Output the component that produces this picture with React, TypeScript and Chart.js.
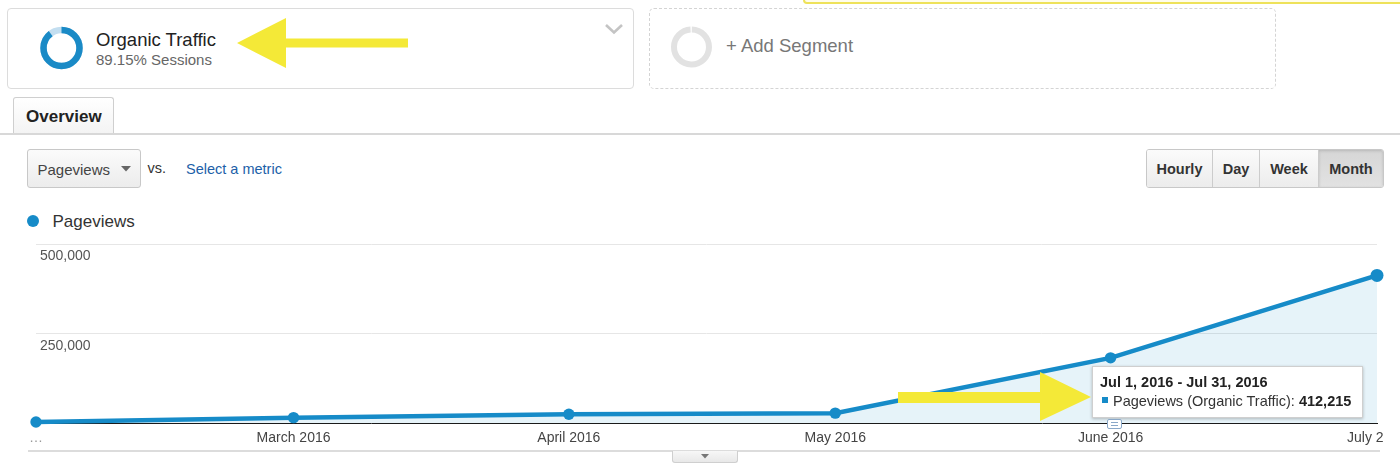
import React, { useEffect, useRef } from "react";
import { Chart, registerables } from "chart.js";

Chart.register(...registerables);

// ---- data ----
const monthLabels = ["…", "March 2016", "April 2016", "May 2016", "June 2016", "July 2016"];
const dayOffsets = [0, 29, 60, 90, 121, 151]; // days since Feb 1, 2016
const pageviews = [3000, 15000, 24500, 27500, 182000, 412215];
const yTickValues = [250000, 500000];
const tooltipRange = "Jul 1, 2016 - Jul 31, 2016";
const segmentName = "Organic Traffic";
const segmentShare = "89.15% Sessions";
const segmentPercent = 89.15;
const metricName = "Pageviews";
const periodButtons = ["Hourly", "Day", "Week", "Month"];

const FONT = "'Liberation Sans', Arial, Helvetica, sans-serif";
const BLUE = "#168bc8";

function abs(left: number, top: number, extra: React.CSSProperties = {}): React.CSSProperties {
  return { position: "absolute", left, top, ...extra };
}

export default function App() {
  const canvasRef = useRef<HTMLCanvasElement | null>(null);

  useEffect(() => {
    const canvas = canvasRef.current;
    if (!canvas) return;
    const last = pageviews.length - 1;
    const chart = new Chart(canvas, {
      type: "line",
      data: {
        datasets: [
          {
            label: metricName,
            data: dayOffsets.map((x, i) => ({ x, y: pageviews[i] })),
            borderColor: BLUE,
            backgroundColor: "rgba(5,141,199,0.1)",
            fill: "origin",
            borderWidth: 4.5,
            tension: 0,
            pointRadius: (ctx: any) => (ctx.dataIndex === last ? 6.5 : 5.7),
            pointBackgroundColor: BLUE,
            pointBorderWidth: 0,
            clip: false as any,
          },
        ],
      },
      options: {
        animation: false,
        responsive: false,
        maintainAspectRatio: false,
        events: [],
        layout: { padding: { left: 36, right: 7, top: 8, bottom: 0 } },
        plugins: {
          legend: { display: false },
          tooltip: { enabled: false },
        },
        scales: {
          x: {
            type: "linear",
            min: dayOffsets[0],
            max: dayOffsets[dayOffsets.length - 1],
            afterBuildTicks: (s: any) => {
              s.ticks = dayOffsets.map((v) => ({ value: v }));
            },
            afterFit: (s: any) => {
              s.height = 28;
              s.paddingLeft = 0;
              s.paddingRight = 0;
            },
            grid: { display: true, color: "rgba(0,0,0,0)", drawTicks: false },
            border: { display: true, color: "#1a1a1a", width: 1 },
            ticks: {
              autoSkip: false,
              maxRotation: 0,
              padding: 7,
              font: { family: FONT, size: 14 },
              color: (ctx: any) => (ctx.index === 0 ? "#999" : "#444"),
              callback: (v: any) => {
                const i = dayOffsets.indexOf(Number(v));
                return i >= 0 ? monthLabels[i] : "";
              },
            },
          },
          y: {
            min: 0,
            max: 500000,
            afterBuildTicks: (s: any) => {
              s.ticks = yTickValues.map((v) => ({ value: v }));
            },
            afterFit: (s: any) => {
              s.width = 0;
              s.paddingTop = 0;
              s.paddingBottom = 0;
            },
            grid: { color: "#e6e6e6", lineWidth: 1, drawTicks: false },
            border: { display: false },
            ticks: {
              mirror: true,
              padding: 4,
              labelOffset: 12.5,
              font: { family: FONT, size: 14 },
              color: "#555",
              callback: (v: any) => Number(v).toLocaleString("en-US"),
            },
          },
        },
      } as any,
    });
    return () => chart.destroy();
  }, []);

  const circ1 = 2 * Math.PI * 18;
  const circ2 = 2 * Math.PI * 17.5;
  const lastValue = pageviews[pageviews.length - 1].toLocaleString("en-US");

  const btnBase: React.CSSProperties = {
    height: 37,
    display: "flex",
    alignItems: "center",
    justifyContent: "center",
    fontWeight: "bold",
    fontSize: 14.5,
    color: "#333",
    borderRight: "1px solid #ccc",
    boxSizing: "border-box",
  };
  const btnWidths = [66, 47, 59, 64];

  return (
    <div
      style={{
        position: "absolute",
        left: 0,
        top: 0,
        width: 1400,
        height: 472,
        overflow: "hidden",
        background: "#fff",
        fontFamily: FONT,
      }}
    >
      {/* yellow notice box edge at top */}
      <div
        style={abs(803, -20, {
          width: 620,
          height: 20,
          border: "2px solid #eee25a",
          borderRadius: 4,
          background: "#fffdeb",
        })}
      />

      {/* segment box 1 */}
      <div
        style={abs(7, 8, {
          width: 627,
          height: 81,
          border: "1px solid #dcdcdc",
          borderRadius: 4,
          boxSizing: "border-box",
        })}
      />
      <div style={abs(96, 29.5, { fontSize: 18.5, lineHeight: "20px", color: "#222", whiteSpace: "nowrap" })}>
        {segmentName}
      </div>
      <div style={abs(96, 50.5, { fontSize: 15, lineHeight: "17px", color: "#666", whiteSpace: "nowrap" })}>
        {segmentShare}
      </div>

      {/* segment box 2 */}
      <div
        style={abs(649, 8, {
          width: 627,
          height: 81,
          border: "1px dashed #d4d4d4",
          borderRadius: 5,
          boxSizing: "border-box",
        })}
      />
      <div style={abs(726, 36, { fontSize: 18.5, lineHeight: "20px", color: "#777", whiteSpace: "nowrap" })}>
        + Add Segment
      </div>

      {/* svg decorations: donuts, chevron, arrows */}
      <svg width={1400} height={472} style={abs(0, 0, { pointerEvents: "none", zIndex: 3 })}>
        <circle cx={61.5} cy={48} r={18} fill="none" stroke="#c3def0" strokeWidth={6.5} />
        <circle
          cx={61.5}
          cy={48}
          r={18}
          fill="none"
          stroke="#1a8ac6"
          strokeWidth={6.5}
          strokeDasharray={`${(circ1 * segmentPercent) / 100} ${circ1}`}
          transform="rotate(-90 61.5 48)"
        />
        <circle
          cx={691.5}
          cy={47}
          r={17.5}
          fill="none"
          stroke="#e2e2e2"
          strokeWidth={6}
          strokeDasharray={`${circ2 - 2} 2`}
          transform="rotate(-89 691.5 47)"
        />
        <polyline points="606,25 614,32.5 622,25" fill="none" stroke="#c4c4c4" strokeWidth={2.6} />
        {/* dropdown triangle */}
        <polygon points="121,166 131,166 126,171.5" fill="#666" />
        {/* arrow 1 */}
        <polygon
          points="237,43 286,18 286,38.5 408,38.5 408,47.5 286,47.5 286,68"
          fill="#f4e937"
        />
        {/* arrow 2 */}
        <polygon
          points="1091,397 1040,372 1040,392 898,392 898,403 1040,403 1040,421"
          fill="#f4e937"
        />
        {/* legend dot */}
        <circle cx={33} cy={221} r={6} fill={BLUE} />
        {/* bottom tab triangle */}
        <polygon points="701,454 709,454 705,458.5" fill="#777" />
      </svg>

      {/* tab strip */}
      <div
        style={abs(13, 97, {
          width: 101,
          height: 38,
          border: "1px solid #cfcfcf",
          borderBottom: "none",
          background: "linear-gradient(#ffffff, #f3f3f3)",
          borderRadius: "3px 3px 0 0",
          boxSizing: "border-box",
        })}
      />
      <div style={abs(26, 106.5, { fontSize: 17, fontWeight: "bold", lineHeight: "20px", color: "#222" })}>
        Overview
      </div>
      <div style={abs(0, 133, { width: 1400, height: 2, background: "#d8d8d8" })} />

      {/* metric dropdown */}
      <div
        style={abs(27, 149, {
          width: 114,
          height: 39,
          border: "1px solid #c8c8c8",
          borderRadius: 3,
          background: "linear-gradient(#fbfbfb, #ececec)",
          boxSizing: "border-box",
        })}
      />
      <div style={abs(37.5, 160.5, { fontSize: 15, lineHeight: "17px", color: "#444", zIndex: 2 })}>
        {metricName}
      </div>
      <div style={abs(147.5, 159.5, { fontSize: 14.5, lineHeight: "17px", color: "#333" })}>vs.</div>
      <div style={abs(186, 161, { fontSize: 14.5, lineHeight: "17px", color: "#1d5fa8" })}>Select a metric</div>

      {/* period buttons */}
      <div
        style={abs(1146, 149, {
          display: "flex",
          border: "1px solid #c8c8c8",
          borderRadius: 3,
          overflow: "hidden",
          boxSizing: "border-box",
          height: 39,
        })}
      >
        {periodButtons.map((b, i) => (
          <div
            key={b}
            style={{
              ...btnBase,
              width: btnWidths[i],
              borderRight: i === periodButtons.length - 1 ? "none" : "1px solid #ccc",
              background:
                i === periodButtons.length - 1
                  ? "linear-gradient(#d6d6d6, #e2e2e2)"
                  : "linear-gradient(#fbfbfb, #ececec)",
              boxShadow: i === periodButtons.length - 1 ? "inset 0 1px 3px rgba(0,0,0,0.15)" : "none",
            }}
          >
            {b}
          </div>
        ))}
      </div>

      {/* legend */}
      <div style={abs(52.5, 211.5, { fontSize: 17, lineHeight: "20px", color: "#333" })}>{metricName}</div>

      {/* chart */}
      <canvas ref={canvasRef} width={1384} height={215} style={abs(0, 236, { width: 1384, height: 215 })} />

      {/* bottom rule and collapse tab */}
      <div style={abs(28, 450, { width: 1352, height: 2, background: "#dcdcdc" })} />
      <div
        style={abs(672, 451, {
          width: 66,
          height: 12,
          border: "1px solid #cfcfcf",
          borderTop: "none",
          borderRadius: "0 0 3px 3px",
          background: "linear-gradient(#f7f7f7, #e8e8e8)",
          boxSizing: "border-box",
          zIndex: 2,
        })}
      />

      {/* static hover tooltip */}
      <div
        style={abs(1092, 366, {
          width: 271,
          height: 52,
          background: "#fff",
          border: "1px solid #cfcfcf",
          boxShadow: "0 1px 3px rgba(0,0,0,0.25)",
          boxSizing: "border-box",
          zIndex: 2,
        })}
      >
        <div style={abs(7, 6, { fontSize: 14.5, fontWeight: "bold", lineHeight: "18px", color: "#222", whiteSpace: "nowrap" })}>
          {tooltipRange}
        </div>
        <div style={abs(9, 30, { width: 6, height: 6, background: BLUE })} />
        <div style={abs(20, 25, { fontSize: 14.5, lineHeight: "18px", color: "#333", whiteSpace: "nowrap" })}>
          {metricName} ({segmentName}): <b style={{ color: "#222" }}>{lastValue}</b>
        </div>
      </div>
      {/* annotation bubble icon */}
      <div
        style={abs(1107, 419, {
          width: 15,
          height: 10,
          border: "1px solid #8aa8c8",
          borderRadius: 2,
          background: "#fff",
          boxSizing: "border-box",
          zIndex: 2,
        })}
      >
        <div style={abs(3, 2, { width: 7, height: 1, background: "#8aa8c8" })} />
        <div style={abs(3, 5, { width: 7, height: 1, background: "#8aa8c8" })} />
      </div>
    </div>
  );
}
